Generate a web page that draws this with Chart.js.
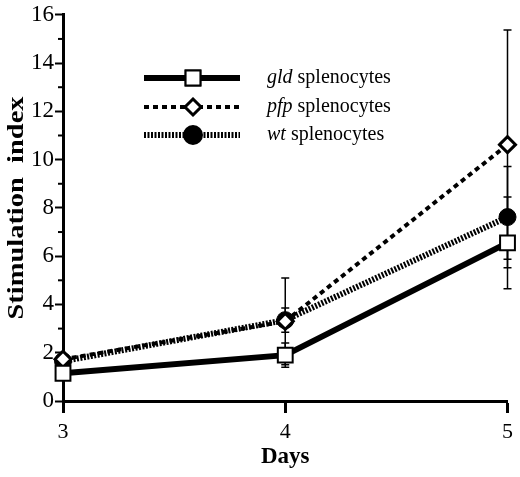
<!DOCTYPE html>
<html>
<head>
<meta charset="utf-8">
<script src="https://cdn.jsdelivr.net/npm/chart.js@4.4.1/dist/chart.umd.min.js"></script>
<style>
  html, body { margin: 0; padding: 0; background: #fff; }
  #wrap { width: 520px; height: 477px; }
</style>
</head>
<body>
<div id="wrap"><canvas id="myChart" width="520" height="477"></canvas></div>
<script>
// days on the x axis
var days = [3, 4, 5]

// mean stimulation index per strain
var gldValues = [1.15, 1.9, 6.55]
var pfpValues = [1.73, 3.3, 10.62]
var wtValues = [1.65, 3.35, 7.62]

// error bar half-heights
var gldErr = [0.1, 0.5, 1.9]
var pfpErr = [0.1, 1.8, 4.75]
var wtErr = [0.1, 0.5, 2.1]

var legendNames = ['gld', 'pfp', 'wt']
var yTicks = [0, 2, 4, 6, 8, 10, 12, 14, 16]

var serif = "'Liberation Serif', 'DejaVu Serif', serif"

function points(vals) {
    return days.map((d, i) => ({ x: d, y: vals[i] }))
}

// minor y ticks and error bars, drawn under the markers
const errorBars = {
    id: 'errorBars',
    beforeDatasetsDraw(chart) {
        const ctx = chart.ctx
        const xs = chart.scales.x, ys = chart.scales.y
        const left = chart.chartArea.left
        ctx.save()
        ctx.strokeStyle = '#000'
        ctx.lineWidth = 2
        for (var v = 1; v < 16; v += 2) {
            var py = ys.getPixelForValue(v)
            ctx.beginPath()
            ctx.moveTo(left - 5, py); ctx.lineTo(left, py)
            ctx.stroke()
        }

        ctx.lineWidth = 1.5
        chart.data.datasets.forEach(ds => {
            ds.data.forEach((p, i) => {
                var e = ds.errors[i]
                if (!e || e < 0.3) return
                var px = xs.getPixelForValue(p.x)
                var top = ys.getPixelForValue(p.y + e)
                var bot = ys.getPixelForValue(p.y - e)
                ctx.beginPath()
                ctx.moveTo(px, top); ctx.lineTo(px, bot)
                ctx.moveTo(px - 4, top); ctx.lineTo(px + 4, top)
                ctx.moveTo(px - 4, bot); ctx.lineTo(px + 4, bot)
                ctx.stroke()
            })
        })
        ctx.restore()
    }
}

// y title and the line+marker legend
const extras = {
    id: 'extras',
    afterDraw(chart) {
        const ctx = chart.ctx
        ctx.save()

        // y axis title, stretched like the original
        ctx.save()
        ctx.translate(17, 208)
        ctx.rotate(-Math.PI / 2)
        ctx.font = 'bold 23px ' + serif
        ctx.fillStyle = '#000'
        ctx.textAlign = 'center'
        ctx.textBaseline = 'middle'
        var t = 'Stimulation  index'
        var w = ctx.measureText(t).width
        ctx.scale(223 / w, 1)
        ctx.fillText(t, 0, 0)
        ctx.restore()

        // legend
        var rows = [78, 107, 135]
        chart.data.datasets.forEach((ds, i) => {
            var y = rows[i]
            ctx.save()
            ctx.strokeStyle = '#000'
            ctx.lineWidth = ds.borderWidth
            ctx.setLineDash(ds.borderDash || [])
            ctx.beginPath()
            ctx.moveTo(144, y); ctx.lineTo(240, y)
            ctx.stroke()
            ctx.setLineDash([])
            ctx.restore()
            Chart.helpers.drawPoint(ctx, {
                pointStyle: ds.pointStyle,
                radius: ds.pointRadius,
                borderWidth: ds.pointBorderWidth,
                rotation: 0
            }, 193, y)
            ctx.fillStyle = ds.pointBackgroundColor
            ctx.strokeStyle = '#000'
            ctx.lineWidth = ds.pointBorderWidth
            ctx.fill()
            ctx.stroke()

            ctx.fillStyle = '#000'
            ctx.textBaseline = 'middle'
            ctx.textAlign = 'left'
            ctx.font = 'italic 20px ' + serif
            ctx.fillText(legendNames[i], 267, y)
            var nw = ctx.measureText(legendNames[i] + ' ').width
            ctx.font = '20px ' + serif
            ctx.fillText('splenocytes', 267 + nw, y)
        })
        ctx.restore()
    }
}

const ctx = document.getElementById('myChart')

new Chart(ctx, {
    type: 'line',
    data: {
        datasets: [{
            label: 'gld splenocytes',
            data: points(gldValues),
            errors: gldErr,
            borderColor: '#000',
            borderWidth: 6,
            pointStyle: 'rect',
            pointRadius: 10.5,
            pointBorderWidth: 2,
            pointBackgroundColor: '#fff',
            pointBorderColor: '#000',
            order: 1
        }, {
            label: 'pfp splenocytes',
            data: points(pfpValues),
            errors: pfpErr,
            borderColor: '#000',
            borderWidth: 4,
            borderDash: [5, 4],
            pointStyle: 'rectRot',
            pointRadius: 8,
            pointBorderWidth: 3,
            pointBackgroundColor: '#fff',
            pointBorderColor: '#000',
            order: 2
        }, {
            label: 'wt splenocytes',
            data: points(wtValues),
            errors: wtErr,
            borderColor: '#000',
            borderWidth: 6,
            borderDash: [2, 1.5],
            pointStyle: 'circle',
            pointRadius: 8.5,
            pointBorderWidth: 1,
            pointBackgroundColor: '#000',
            pointBorderColor: '#000',
            order: 3
        }]
    },
    options: {
        responsive: false,
        animation: false,
        clip: false,
        layout: { padding: { top: 7, right: 11, left: 0, bottom: 0 } },
        plugins: {
            legend: { display: false },
            tooltip: { enabled: false }
        },
        scales: {
            x: {
                type: 'linear',
                min: 3,
                max: 5,
                afterFit: s => { s.height = 76 },
                afterBuildTicks: s => { s.ticks = days.map(v => ({ value: v })) },
                ticks: {
                    color: '#000',
                    font: { family: serif, size: 22 },
                    padding: 6
                },
                grid: {
                    drawOnChartArea: false,
                    drawTicks: true,
                    tickLength: 12,
                    tickWidth: 3,
                    tickColor: '#000'
                },
                border: { display: true, color: '#000', width: 3 },
                title: {
                    display: true,
                    text: 'Days',
                    color: '#000',
                    font: { family: serif, size: 23, weight: 'bold' },
                    padding: { top: 0, bottom: 6 }
                }
            },
            y: {
                min: 0,
                max: 16,
                afterFit: s => { s.width = 63 },
                afterBuildTicks: s => { s.ticks = yTicks.map(v => ({ value: v })) },
                ticks: {
                    color: '#000',
                    font: { family: serif, size: 23 },
                    padding: 1
                },
                grid: {
                    drawOnChartArea: false,
                    drawTicks: true,
                    tickLength: 8,
                    tickWidth: 2,
                    tickColor: '#000'
                },
                border: { display: true, color: '#000', width: 3 }
            }
        }
    },
    plugins: [errorBars, extras]
});
</script>
</body>
</html>
